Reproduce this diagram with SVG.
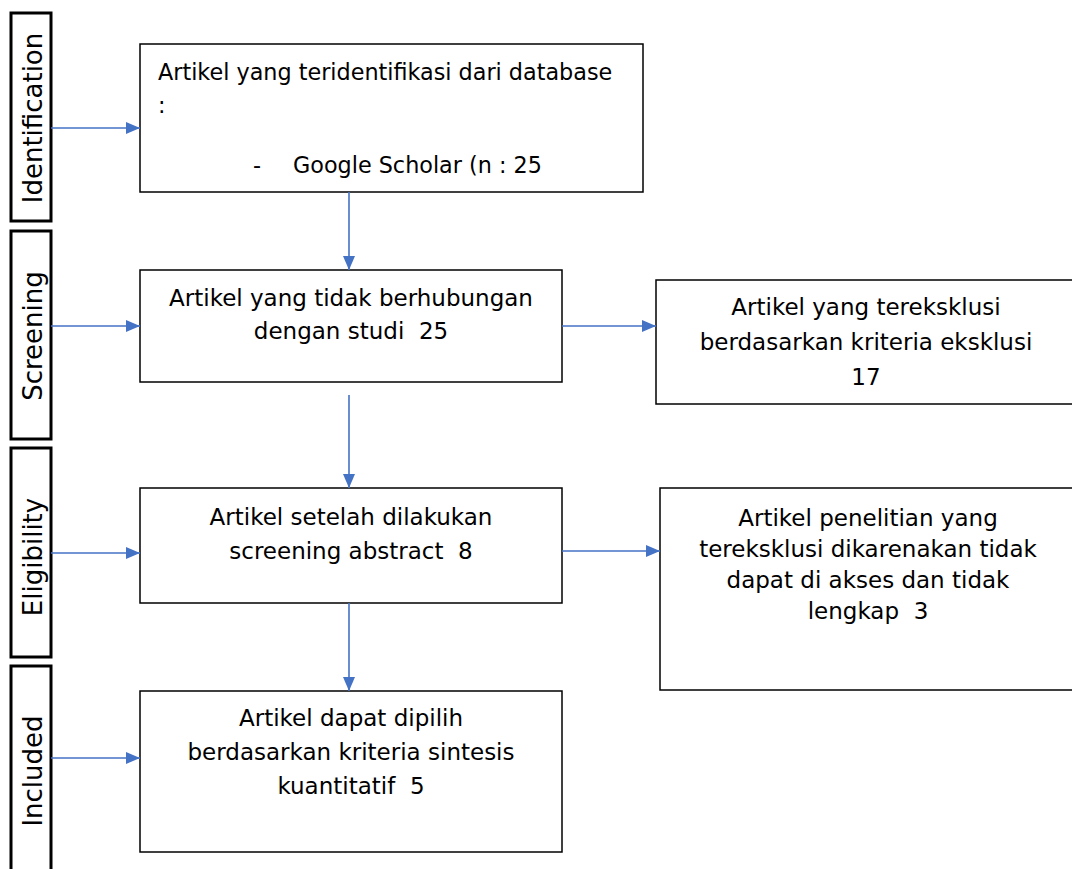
<svg xmlns="http://www.w3.org/2000/svg" width="1072" height="869" viewBox="0 0 1072 869">
<defs>
<style>
.lbl{fill:#fff;stroke:#000;stroke-width:3}
.box{fill:#fff;stroke:#000;stroke-width:1.5}
text{font-family:"DejaVu Sans","Liberation Sans",sans-serif;font-size:23px;fill:#000;white-space:pre}
.v{font-size:26px}
.s{font-size:22.3px}
.c{text-anchor:middle}
.conn line{stroke:#4472C4;stroke-width:1.6;fill:none}
</style>
<marker id="ah2" viewBox="0 0 14 12" refX="14" refY="6" markerWidth="14" markerHeight="12" markerUnits="userSpaceOnUse" orient="auto">
<path d="M0,0 L14,6 L0,12 Z" fill="#4472C4"/>
</marker>
</defs>
<rect width="1072" height="869" fill="#fff"/>

<g id="lbl-identification"><rect class="lbl" x="11" y="13" width="40" height="208"/><text class="c v" transform="translate(42,118) rotate(-90)">Identification</text></g>
<g id="lbl-screening"><rect class="lbl" x="11" y="231" width="40" height="208"/><text class="c v" transform="translate(42,336) rotate(-90)">Screening</text></g>
<g id="lbl-eligibility"><rect class="lbl" x="11" y="448" width="40" height="209"/><text class="c v" transform="translate(42,557) rotate(-90)">Eligibility</text></g>
<g id="lbl-included"><rect class="lbl" x="11" y="666" width="40" height="220"/><text class="c v" transform="translate(42,771) rotate(-90)">Included</text></g>

<g id="box-identified"><rect class="box" x="140" y="44" width="503" height="148"/>
<text class="s" x="158" y="80">Artikel yang teridentifikasi dari database</text>
<text class="s" x="158" y="113">:</text>
<text class="s" x="253" y="173">-</text>
<text class="s" x="293" y="173">Google Scholar (n : 25</text></g>

<g id="box-screening"><rect class="box" x="140" y="270" width="422" height="112"/>
<text class="c" x="351" y="306">Artikel yang tidak berhubungan</text>
<text class="c" x="351" y="339">dengan studi  25</text></g>

<g id="box-excluded"><rect class="box" x="656" y="280" width="420" height="124"/>
<text class="c" x="866" y="315">Artikel yang tereksklusi</text>
<text class="c" x="866" y="350">berdasarkan kriteria eksklusi</text>
<text class="c" x="866" y="385">17</text></g>

<g id="box-eligibility"><rect class="box" x="140" y="488" width="422" height="115"/>
<text class="c" x="351" y="525">Artikel setelah dilakukan</text>
<text class="c" x="351" y="559">screening abstract  8</text></g>

<g id="box-notaccess"><rect class="box" x="660" y="488" width="416" height="202"/>
<text class="c" x="868" y="526">Artikel penelitian yang</text>
<text class="c" x="868" y="557">tereksklusi dikarenakan tidak</text>
<text class="c" x="868" y="588">dapat di akses dan tidak</text>
<text class="c" x="868" y="619">lengkap  3</text></g>

<g id="box-included"><rect class="box" x="140" y="691" width="422" height="161"/>
<text class="c" x="351" y="726">Artikel dapat dipilih</text>
<text class="c" x="351" y="760">berdasarkan kriteria sintesis</text>
<text class="c" x="351" y="794">kuantitatif  5</text></g>

<g id="connectors" class="conn">
<line x1="51" y1="128" x2="140" y2="128" marker-end="url(#ah2)"/>
<line x1="51" y1="326" x2="140" y2="326" marker-end="url(#ah2)"/>
<line x1="51" y1="553" x2="140" y2="553" marker-end="url(#ah2)"/>
<line x1="51" y1="758" x2="140" y2="758" marker-end="url(#ah2)"/>
<line x1="349" y1="192" x2="349" y2="270" marker-end="url(#ah2)"/>
<line x1="349" y1="395" x2="349" y2="488" marker-end="url(#ah2)"/>
<line x1="349" y1="603" x2="349" y2="691" marker-end="url(#ah2)"/>
<line x1="562" y1="326" x2="656" y2="326" marker-end="url(#ah2)"/>
<line x1="562" y1="551" x2="660" y2="551" marker-end="url(#ah2)"/>
</g>
</svg>
